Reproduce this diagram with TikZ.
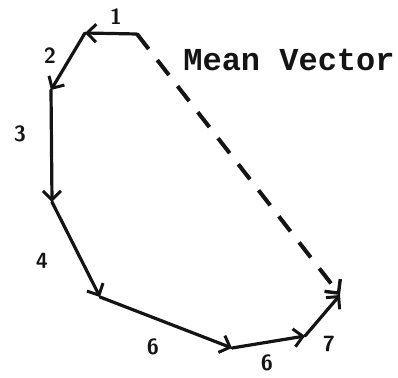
\documentclass[tikz,border=0pt]{standalone}
\usepackage{fontspec}
\newfontfamily\vecmono{Liberation Mono}
\usetikzlibrary{arrows.meta}
\definecolor{vecInk}{HTML}{141414}
\tikzset{
  vec step/.style={draw=vecInk, line width=3.2pt, line cap=round,
    -{Straight Barb[length=9pt,width=18pt,line width=3pt]}},
  vec mean/.style={draw=vecInk, line width=4pt, dash pattern=on 19pt off 14pt,
    -{Straight Barb[length=10pt,width=20pt,line width=3.4pt]}},
  vec label/.style={font=\sffamily\bfseries\fontsize{22}{22}\selectfont, text=vecInk, inner sep=0pt},
  vec title/.style={font=\vecmono\bfseries\fontsize{32}{32}\selectfont, text=vecInk, inner sep=0pt},
}
\begin{document}
\begin{tikzpicture}[x=1pt,y=-1pt]
  \useasboundingbox (0,0) rectangle (398,377);
  % Head-to-tail path of the step vectors
  \coordinate (p0) at (137,34);
  \coordinate (p1) at (85,33);
  \coordinate (p2) at (51,90);
  \coordinate (p3) at (52,202);
  \coordinate (p4) at (100,297);
  \coordinate (p5) at (232,348);
  \coordinate (p6) at (305,336);
  \coordinate (p7) at (340,295);
  \foreach \a/\b in {p0/p1,p1/p2,p2/p3,p3/p4,p4/p5,p5/p6,p6/p7}
    \draw[vec step] (\a) -- (\b);
  % Resultant
  \draw[vec mean] (p0) -- (p7);
  \node[vec title] (mean) at (289,60) {Mean Vector};
  % Step lengths
  \node[vec label] (l1) at (116,17) {1};
  \node[vec label] (l2) at (50,56) {2};
  \node[vec label] (l3) at (20,134) {3};
  \node[vec label] (l4) at (42,261) {4};
  \node[vec label] (l5) at (153,347) {6};
  \node[vec label] (l6) at (267,363) {6};
  \node[vec label] (l7) at (329,344) {7};
\end{tikzpicture}
\end{document}
